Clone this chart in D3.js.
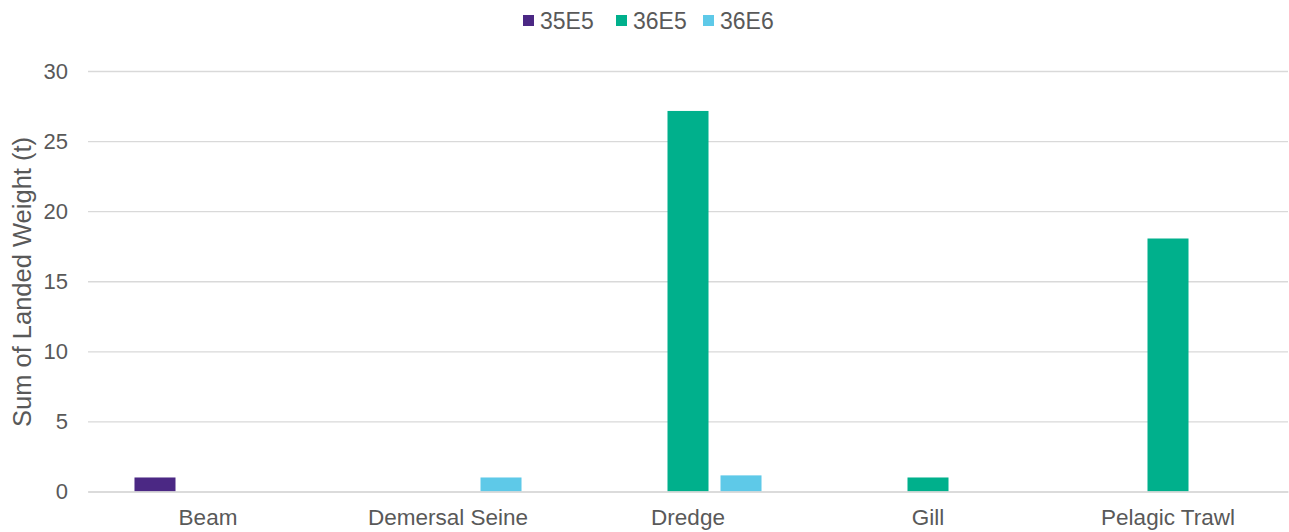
<!DOCTYPE html>
<html>
<head>
<meta charset="utf-8">
<script src="https://cdn.jsdelivr.net/npm/d3@7"></script>
<style>
  html, body { margin: 0; padding: 0; background: #fff; }
  svg { display: block; font-family: "Liberation Sans", Arial, sans-serif; }
</style>
</head>
<body>
<svg id="chart" width="1289" height="532"></svg>
<script>
const categories = ["Beam", "Demersal Seine", "Dredge", "Gill", "Pelagic Trawl"];
const seriesNames = ["35E5", "36E5", "36E6"];
const seriesColors = ["#4b2884", "#00b08c", "#5ec9e8"];
const values35E5 = [1, null, null, null, null];
const values36E5 = [null, null, 27.15, 1, 18.05];
const values36E6 = [null, 1, 1.15, null, null];
const yTicks = [0, 5, 10, 15, 20, 25, 30];
const yTitle = "Sum of Landed Weight (t)";

const seriesValues = [values35E5, values36E5, values36E6];

const svg = d3.select("#chart");
const plotBottom = 491.5, plotTop = 71;

const x0 = d3.scaleBand().domain(categories).range([88, 1288]).paddingInner(0).paddingOuter(0);
const x1 = d3.scaleBand().domain(seriesNames).range([0, x0.bandwidth()])
  .paddingInner(12 / 53).paddingOuter(0.877);
const y = d3.scaleLinear().domain([0, 30]).range([plotBottom, plotTop]);

const textColor = "#595959";

// gridlines
const yAxis = d3.axisLeft(y).tickValues(yTicks).tickSize(-(1288 - 88)).tickPadding(20).tickFormat(d3.format("d"));
const gy = svg.append("g").attr("transform", "translate(88,0)").call(yAxis);
gy.select(".domain").remove();
gy.selectAll(".tick line").attr("stroke", "#d9d9d9").attr("stroke-width", 1.3);
gy.selectAll(".tick text").attr("fill", textColor).attr("font-size", 22).attr("font-family", "Liberation Sans, Arial, sans-serif");

// bars
const flat = [];
categories.forEach((c, i) => {
  seriesNames.forEach((s, j) => {
    const v = seriesValues[j][i];
    if (v != null) flat.push({ c, s, v, color: seriesColors[j] });
  });
});
svg.append("g").selectAll("rect").data(flat).join("rect")
  .attr("x", d => x0(d.c) + x1(d.s))
  .attr("width", x1.bandwidth())
  .attr("y", d => y(d.v))
  .attr("height", d => y(0) - y(d.v))
  .attr("fill", d => d.color);

// x axis baseline
const xAxis = d3.axisBottom(x0).tickSize(0).tickPadding(18);
const gx = svg.append("g").attr("transform", `translate(0,${plotBottom})`).call(xAxis);
gx.select(".domain").attr("stroke", "#d9d9d9").attr("stroke-width", 1.5);
gx.selectAll(".tick text").attr("fill", textColor).attr("font-size", 22.5).attr("font-family", "Liberation Sans, Arial, sans-serif");

// y title
svg.append("text")
  .attr("transform", `translate(31,282) rotate(-90)`)
  .attr("text-anchor", "middle")
  .attr("fill", textColor)
  .attr("font-size", 25.5)
  .text(yTitle);

// legend
const legendX = [523, 616, 703];
const lg = svg.append("g");
seriesNames.forEach((s, j) => {
  lg.append("rect").attr("x", legendX[j]).attr("y", 15).attr("width", 11).attr("height", 11).attr("fill", seriesColors[j]);
  lg.append("text").attr("x", legendX[j] + 17).attr("y", 28.5).attr("fill", textColor)
    .attr("font-size", 23).text(s);
});
</script>
</body>
</html>
